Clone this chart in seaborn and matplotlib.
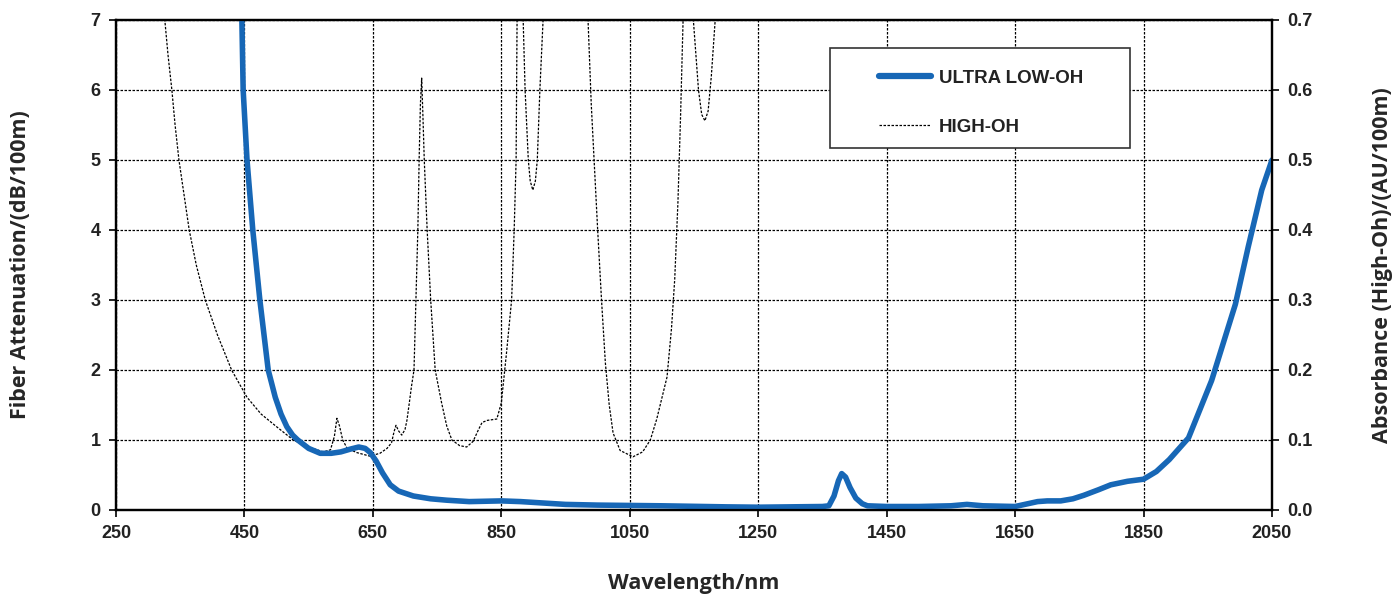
import matplotlib
matplotlib.use("Agg")
import matplotlib.pyplot as plt
from matplotlib.lines import Line2D
from matplotlib.patches import Rectangle
import seaborn as sns
import pandas as pd

# --- datos ---
# ULTRA LOW-OH: atenuacion (dB/100m), eje izquierdo
wl_ultra = [445, 446, 448, 454, 463, 474, 487, 498, 507, 516, 525, 533, 550, 568, 585,
            600, 615, 628, 638, 646, 655, 665, 677, 690, 713, 740, 765, 800, 850, 880,
            950, 1000, 1100, 1200, 1250, 1300, 1350, 1360, 1368, 1375, 1380, 1386, 1393,
            1402, 1412, 1420, 1450, 1500, 1550, 1575, 1600, 1650, 1665, 1685, 1700, 1721,
            1740, 1757, 1780, 1799, 1825, 1850, 1870, 1890, 1920, 1956, 1993, 2013, 2034, 2050]
att_ultra = [7.3, 7.0, 6.0, 5.0, 4.0, 3.0, 2.0, 1.61, 1.37, 1.19, 1.07, 1.0, 0.88, 0.81, 0.81,
             0.83, 0.87, 0.9, 0.88, 0.82, 0.7, 0.53, 0.36, 0.27, 0.2, 0.16, 0.14, 0.12, 0.13, 0.12,
             0.08, 0.07, 0.06, 0.045, 0.04, 0.045, 0.05, 0.06, 0.2, 0.42, 0.52, 0.47, 0.32,
             0.17, 0.09, 0.06, 0.05, 0.05, 0.06, 0.08, 0.06, 0.05, 0.08, 0.12, 0.13, 0.13,
             0.16, 0.21, 0.29, 0.36, 0.41, 0.44, 0.55, 0.72, 1.03, 1.85, 2.94, 3.76, 4.57, 5.0]

# HIGH-OH: absorbancia (AU/100m), eje derecho
wl_high = [318, 326, 331, 337, 342, 348, 356, 364, 375, 389, 408, 430, 454, 476, 500, 526,
           550, 573, 584, 590, 594, 598, 603, 610, 625, 645, 661, 672, 679, 683, 686, 690,
           695, 700, 703, 707, 710, 714, 717, 720, 722, 724, 726, 728, 730, 734.5, 740, 747,
           757, 765, 773, 785, 796, 806, 814, 820, 828, 843, 850, 858, 866, 870, 873, 874.5,
           877, 881, 884, 887, 892, 895, 899, 903, 906, 910, 915, 920, 950, 980, 985, 990,
           995, 1000, 1006, 1012, 1018, 1024, 1035, 1055, 1070, 1082, 1092, 1100, 1108,
           1115, 1120, 1125, 1129, 1133, 1138, 1144, 1149, 1157, 1162, 1167, 1172, 1177,
           1183, 1190]
abs_high = [0.78, 0.70, 0.65, 0.60, 0.55, 0.50, 0.45, 0.40, 0.35, 0.30, 0.25, 0.20, 0.161,
            0.137, 0.119, 0.10, 0.09, 0.083, 0.086, 0.105, 0.131, 0.12, 0.10, 0.088, 0.082,
            0.077, 0.081, 0.088, 0.096, 0.112, 0.121, 0.113, 0.107, 0.115, 0.128, 0.155, 0.176,
            0.20, 0.30, 0.40, 0.50, 0.58, 0.617, 0.56, 0.50, 0.40, 0.30, 0.20, 0.153, 0.12,
            0.10, 0.092, 0.09, 0.098, 0.114, 0.125, 0.128, 0.13, 0.153, 0.224, 0.30, 0.40,
            0.50, 0.70, 0.85, 0.85, 0.70, 0.60, 0.50, 0.47, 0.457, 0.47, 0.50, 0.60, 0.70,
            0.85, 0.95, 0.85, 0.70, 0.58, 0.49, 0.40, 0.30, 0.21, 0.15, 0.11, 0.085, 0.076,
            0.083, 0.10, 0.13, 0.16, 0.19, 0.26, 0.33, 0.44, 0.56, 0.70, 0.80, 0.80, 0.70,
            0.60, 0.565, 0.556, 0.57, 0.62, 0.70, 0.80]

x_ticks = [250, 450, 650, 850, 1050, 1250, 1450, 1650, 1850, 2050]
y_left_ticks = [0, 1, 2, 3, 4, 5, 6, 7]
y_right_ticks = [0.0, 0.1, 0.2, 0.3, 0.4, 0.5, 0.6, 0.7]

azul = "#1767b6"

df_ultra = pd.DataFrame({"wl": wl_ultra, "val": att_ultra})
df_high = pd.DataFrame({"wl": wl_high, "val": abs_high})

sns.set_style("white")
plt.rcParams['font.family'] = ['Liberation Sans', 'DejaVu Sans']

fig = plt.figure(figsize=(13.95, 5.94), dpi=100)
ax = fig.add_axes([116 / 1395, 1 - 510 / 594, (1272 - 116) / 1395, (510 - 20) / 594])
ax2 = ax.twinx()

# curva HIGH-OH (eje derecho)
sns.lineplot(data=df_high, x="wl", y="val", ax=ax2, color="black", lw=0.9,
             linestyle=(0, (2, 1.2)), sort=False)
# curva ULTRA LOW-OH (eje izquierdo)
sns.lineplot(data=df_ultra, x="wl", y="val", ax=ax, color=azul, lw=4.0, sort=False)

ax.set_zorder(ax2.get_zorder() + 1)
ax.patch.set_visible(False)

ax.set_xlim(250, 2050)
ax.set_ylim(0, 7)
ax2.set_ylim(0, 0.7)
ax.set_xticks(x_ticks)
ax.set_yticks(y_left_ticks)
ax2.set_yticks(y_right_ticks)
ax2.set_yticklabels([f"{v:.1f}" for v in y_right_ticks])

ax.grid(True, color="black", linestyle=(0, (2, 1.2)), lw=0.9)
ax2.grid(False)

for a in (ax, ax2):
    for s in a.spines.values():
        s.set_color("black")
        s.set_linewidth(1.6)
    a.tick_params(direction="out", length=5, width=1.2, color="black",
                  labelsize=13, pad=6)
    for lab in a.get_xticklabels() + a.get_yticklabels():
        lab.set_fontweight("bold")
        lab.set_color("#222222")
ax.tick_params(axis="y", left=True, right=False)
ax.tick_params(axis="x", bottom=True)
ax2.tick_params(axis="y", right=True)

etiqueta = dict(family=["Open Sans", "DejaVu Sans"], fontweight="bold", fontsize=15.5)
ax.set_xlabel("Wavelength/nm", labelpad=22, **etiqueta)
ax.set_ylabel("Fiber Attenuation/(dB/100m)", labelpad=43, **etiqueta)
ax2.set_ylabel("Absorbance (High-Oh)/(AU/100m)", labelpad=43, **etiqueta)

# leyenda con marco dibujado aparte
fig.patches.append(Rectangle((830 / 1395, 1 - 148 / 594), 300 / 1395, 100 / 594,
                             transform=fig.transFigure, fill=True, facecolor="white",
                             edgecolor="#333333", lw=1.2, zorder=5))
handles = [Line2D([], [], color=azul, lw=4.5, solid_capstyle="round"),
           Line2D([], [], color="black", lw=0.9, linestyle=(0, (2, 1.2)))]
leg = fig.legend(handles, ["ULTRA LOW-OH", "HIGH-OH"], loc="upper left",
                 bbox_to_anchor=(862 / 1395, 1 - 53 / 594), frameon=False,
                 handlelength=2.8, handletextpad=0.4, labelspacing=1.7,
                 prop=dict(family="Liberation Sans", weight="bold", size=13.5))
leg.set_zorder(6)
for t in leg.get_texts():
    t.set_color("#222222")

plt.savefig("out.png", dpi=100)
plt.close()
